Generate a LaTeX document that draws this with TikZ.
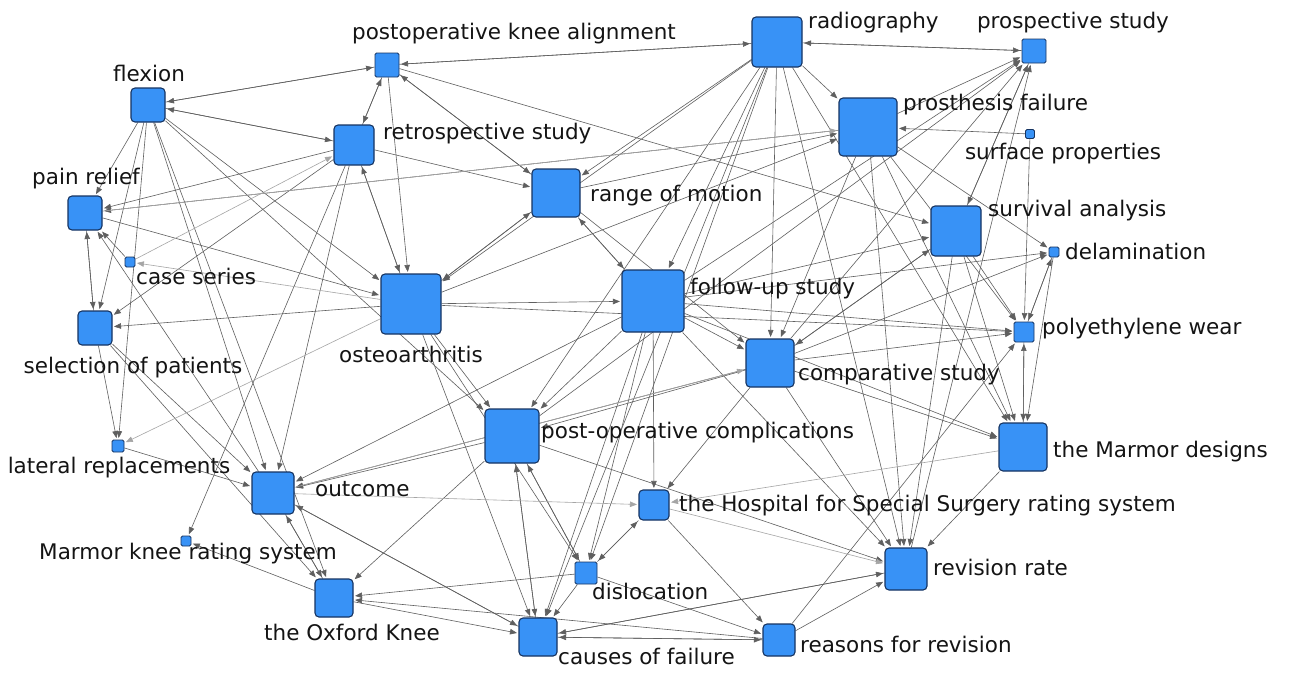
\documentclass[tikz,border=0pt]{standalone}
\usepackage{fontspec}
\setmainfont{DejaVu Sans}
\usetikzlibrary{arrows.meta}
\pgfdeclarelayer{bg}
\pgfsetlayers{bg,main}
\begin{document}
\begin{tikzpicture}[x=1pt,y=-1pt,
  vbox/.style={draw={rgb,255:red,22;green,52;blue,98}, fill={rgb,255:red,56;green,146;blue,246}, rounded corners=4pt, line width=1.1pt, minimum size=#1, inner sep=0pt},
  sbox/.style={vbox=#1, rounded corners=1.5pt, line width=0.9pt},
  lab/.style={inner sep=0pt, font=\fontsize{21.5}{24}\selectfont, text={rgb,255:red,20;green,20;blue,20}, text height=16pt, text depth=4pt},
  edge/.style={draw={rgb,255:red,95;green,95;blue,95}, line width=0.6pt, -{Triangle[length=7pt,width=5.5pt]}, shorten >=1.5pt},
  ledge/.style={edge, draw={rgb,255:red,165;green,165;blue,165}}]
\useasboundingbox (0,0) rectangle (1293,673);
% nodes
\node[sbox=24] (pka) at (387,65) {};
\node[vbox=34] (flex) at (148,105) {};
\node[vbox=40] (retro) at (354,145) {};
\node[vbox=34] (pain) at (85,213) {};
\node[sbox=10] (case) at (130,262) {};
\node[vbox=34] (sel) at (95,328) {};
\node[vbox=60] (oa) at (411,304) {};
\node[vbox=48] (rom) at (556,193) {};
\node[vbox=50] (rad) at (777,42) {};
\node[sbox=24] (pros) at (1034,51) {};
\node[vbox=58] (pf) at (868,127) {};
\node[sbox=9] (surf) at (1030,134) {};
\node[vbox=50] (surv) at (956,231) {};
\node[sbox=10] (delam) at (1054,252) {};
\node[vbox=62] (fu) at (653,301) {};
\node[sbox=20] (pe) at (1024,332) {};
\node[vbox=48] (comp) at (770,363) {};
\node[vbox=54] (poc) at (512,436) {};
\node[vbox=48] (marm) at (1023,447) {};
\node[sbox=12] (lat) at (118,446) {};
\node[vbox=42] (out) at (273,493) {};
\node[vbox=30] (hss) at (654,505) {};
\node[sbox=10] (mkrs) at (186,541) {};
\node[sbox=22] (disl) at (586,573) {};
\node[vbox=42] (rr) at (906,569) {};
\node[vbox=38] (oxf) at (334,598) {};
\node[vbox=38] (cof) at (538,637) {};
\node[vbox=32] (rfr) at (779,640) {};
% labels
\node[lab] (l-pka) at (514,33) {postoperative knee alignment};
\node[lab] (l-flex) at (149,75) {flexion};
\node[lab,anchor=west] (l-retro) at (383,133) {retrospective study};
\node[lab] (l-pain) at (86,178) {pain relief};
\node[lab,anchor=west] (l-case) at (136,278) {case series};
\node[lab] (l-sel) at (133,367) {selection of patients};
\node[lab] (l-oa) at (411,356) {osteoarthritis};
\node[lab,anchor=west] (l-rom) at (590,195) {range of motion};
\node[lab,anchor=west] (l-rad) at (808,22) {radiography};
\node[lab] (l-pros) at (1073,22) {prospective study};
\node[lab,anchor=west] (l-pf) at (903,104) {prosthesis failure};
\node[lab] (l-surf) at (1063,153) {surface properties};
\node[lab,anchor=west] (l-surv) at (988,210) {survival analysis};
\node[lab,anchor=west] (l-delam) at (1065,253) {delamination};
\node[lab,anchor=west] (l-fu) at (690,288) {follow-up study};
\node[lab,anchor=west] (l-pe) at (1042,328) {polyethylene wear};
\node[lab,anchor=west] (l-comp) at (798,374) {comparative study};
\node[lab,anchor=west] (l-poc) at (541,432) {post-operative complications};
\node[lab,anchor=west] (l-marm) at (1053,451) {the Marmor designs};
\node[lab] (l-lat) at (119,467) {lateral replacements};
\node[lab,anchor=west] (l-out) at (315,490) {outcome};
\node[lab,anchor=west] (l-hss) at (679,505) {the Hospital for Special Surgery rating system};
\node[lab] (l-mkrs) at (188,553) {Marmor knee rating system};
\node[lab,anchor=west] (l-disl) at (592,593) {dislocation};
\node[lab,anchor=west] (l-rr) at (933,569) {revision rate};
\node[lab] (l-oxf) at (352,634) {the Oxford Knee};
\node[lab,anchor=west] (l-cof) at (558,658) {causes of failure};
\node[lab,anchor=west] (l-rfr) at (800,646) {reasons for revision};
% edges
\begin{pgfonlayer}{bg}
\fill[white] (0,0) rectangle (1293,673);
\foreach \a/\b in {rad/pka, pka/rad, pka/flex, flex/pka, retro/flex, flex/retro, retro/pka, pka/retro, pka/oa, pka/rom, rom/pka, pka/surv,
  flex/oa, flex/poc, flex/sel, flex/lat, flex/out, flex/pain, flex/oxf,
  pain/sel, sel/pain, pain/oa, out/pain, retro/pain, pf/pain, case/pain,
  oa/sel, retro/sel, sel/lat, sel/out, sel/oxf, lat/out,
  retro/mkrs, oxf/mkrs, retro/oa, oa/retro, retro/rom, retro/out,
  poc/out, fu/out, comp/out, cof/out, out/oxf, oxf/out,
  disl/oxf, rfr/oxf, poc/oxf, oxf/cof, out/cof,
  rad/poc, oa/poc, poc/cof, cof/poc, poc/disl, disl/poc, comp/poc, fu/poc, poc/pros, poc/rr,
  oa/fu, rom/fu, fu/rom, rom/oa, oa/rom, rad/fu, rad/oa, rad/rom,
  fu/comp, fu/hss, fu/cof, fu/disl, fu/pe, fu/delam, fu/marm, fu/rr, fu/pros, fu/surv,
  rom/comp, rom/pf, rad/comp, pf/comp, surv/comp, comp/pe, comp/delam, comp/hss, comp/marm, comp/pros, comp/surv, comp/rr,
  hss/disl, disl/hss, hss/rfr,
  rad/disl, oa/disl, disl/cof, disl/rfr,
  oa/cof, rad/cof, rr/cof, rfr/cof, cof/rfr, cof/rr,
  rad/rr, pf/rr, surv/rr, marm/rr, rfr/rr,
  pf/marm, surv/marm, delam/marm, pe/marm, rad/marm, marm/pe,
  surf/pe, delam/pe, pe/delam, surv/pe, pf/pe, oa/pe, rfr/pe,
  pf/delam, pros/surv, rad/pros, pros/rad, surv/pros, pf/pros, rr/pros,
  rad/pf, surf/pf, oa/pf}
  \draw[edge] (\a) -- (\b);
\foreach \a/\b in {oa/case, case/retro, oa/lat, out/hss, marm/hss, out/comp, pain/pf, hss/rr}
  \draw[ledge] (\a) -- (\b);
\end{pgfonlayer}
\end{tikzpicture}
\end{document}
